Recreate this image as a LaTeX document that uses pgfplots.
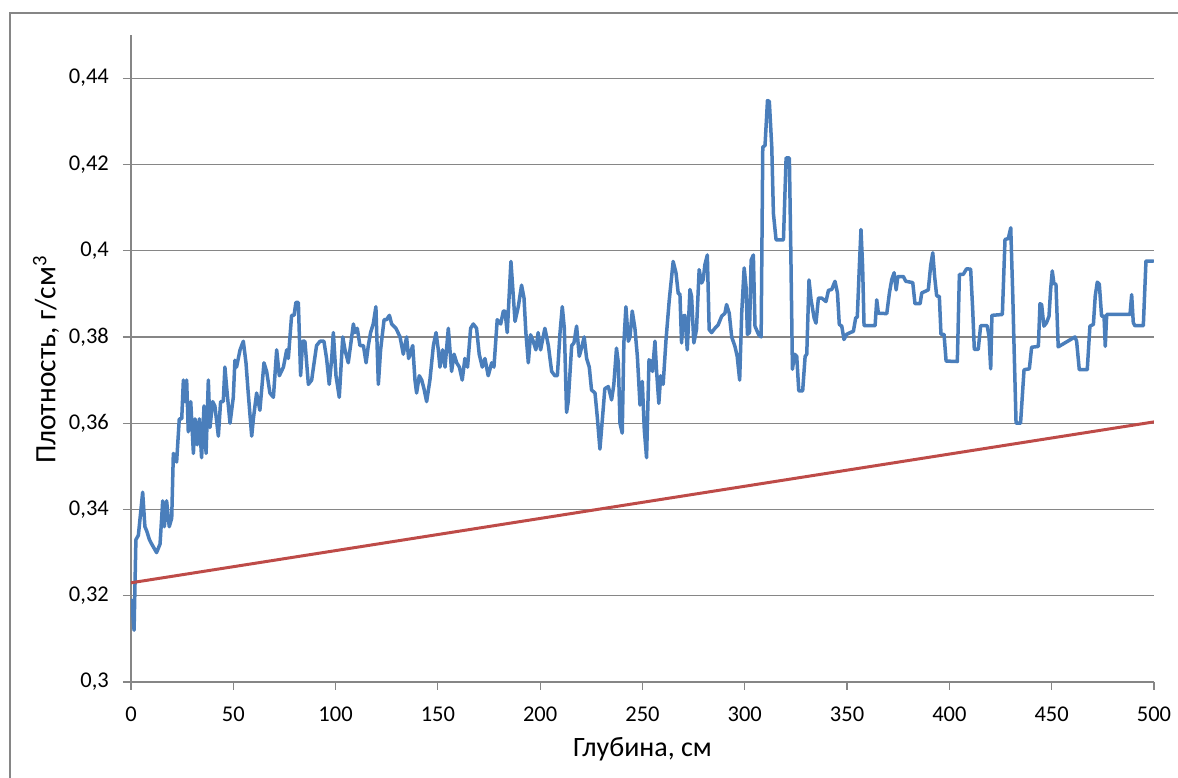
\documentclass[border=0pt]{standalone}
\usepackage{pgfplots}
\pgfplotsset{compat=1.18}
\usepackage{fontspec}
\setmainfont{Carlito}
\definecolor{ser}{RGB}{74,126,187}
\definecolor{tr}{RGB}{190,75,72}
\definecolor{gr}{RGB}{134,134,134}
\pgfplotstableread{
x y
0.3 0.319
1.5 0.312
2.4 0.333
3.6 0.334
5.7 0.344
6.8 0.336
7.7 0.335
9 0.333
10.1 0.332
12.5 0.330
14.2 0.332
15.5 0.342
16.3 0.336
17.4 0.342
18.7 0.336
19.9 0.338
20.7 0.353
22.3 0.351
23.6 0.361
24.8 0.361
25.6 0.370
26.4 0.365
27.2 0.370
28 0.358
29.2 0.365
30.5 0.353
31.3 0.361
32.4 0.355
33.4 0.361
34.5 0.352
35.7 0.364
36.7 0.353
37.8 0.370
38.6 0.359
39.9 0.365
41 0.364
42.7 0.357
43.8 0.365
45.1 0.365
45.9 0.373
46.8 0.368
48.4 0.360
50 0.366
50.8 0.3746
51.6 0.373
53.3 0.377
54.9 0.379
56.2 0.374
57.3 0.367
59 0.357
59.8 0.361
61.4 0.367
63 0.363
65 0.374
66.3 0.372
67.9 0.367
69.6 0.366
71.2 0.377
72.5 0.371
74.5 0.373
76.1 0.377
76.9 0.375
78.5 0.385
79.7 0.385
80.6 0.388
81.8 0.388
82.9 0.371
83.9 0.379
85 0.379
86.7 0.369
88.3 0.370
90.7 0.378
92.4 0.379
94.3 0.379
95.6 0.375
96.9 0.369
98.1 0.375
98.9 0.381
100.2 0.371
101.8 0.366
103.5 0.380
104.6 0.377
106.2 0.374
108.7 0.383
109.5 0.381
110.6 0.382
111.9 0.378
113.6 0.378
114.9 0.374
116 0.378
117.1 0.381
118.4 0.383
119.7 0.387
120.9 0.369
122 0.377
123.7 0.384
124.9 0.384
126.3 0.385
127.4 0.383
129.5 0.382
131.5 0.380
133.1 0.376
134.7 0.380
135.7 0.375
137.7 0.378
138.8 0.370
139.6 0.367
140.9 0.371
142.1 0.370
143.2 0.368
144.5 0.365
146.1 0.370
147.8 0.378
149.1 0.381
150.2 0.377
151.0 0.373
152.3 0.377
153.5 0.373
155.1 0.382
155.9 0.377
156.7 0.372
157.9 0.376
159.2 0.374
160.5 0.373
161.9 0.370
163.2 0.375
164.5 0.373
166 0.382
167.3 0.383
168.9 0.382
170.2 0.376
171.7 0.373
173 0.375
174.6 0.371
176.3 0.374
177.4 0.373
179 0.384
180.7 0.383
182 0.386
182.8 0.386
183.9 0.381
185.7 0.3975
186.5 0.392
187.7 0.3836
189.3 0.387
190.9 0.392
192.1 0.389
193 0.381
194.2 0.374
195.3 0.3805
196.6 0.379
197.9 0.377
199 0.381
200.2 0.377
202.3 0.382
204 0.378
205.6 0.372
207.2 0.371
208.4 0.371
209.7 0.381
210.8 0.387
211.8 0.382
212.9 0.3625
213.7 0.365
215.4 0.378
216.5 0.3786
217.8 0.3825
219.1 0.3755
220.2 0.3774
221.5 0.380
222.7 0.375
224 0.373
225.1 0.3677
226.8 0.367
227.9 0.3615
229.2 0.354
230.5 0.3615
231.6 0.368
233.3 0.3685
234.9 0.3654
236 0.369
237.3 0.3774
238.2 0.374
239 0.360
240.1 0.3577
240.9 0.3786
241.9 0.387
243.1 0.379
243.9 0.380
245 0.386
246.3 0.382
247.5 0.3755
248.8 0.3642
249.9 0.3697
250.9 0.3584
252 0.352
253.2 0.3747
254.1 0.3743
254.9 0.372
256.1 0.379
256.9 0.372
258 0.3646
258.9 0.371
260.1 0.369
261.5 0.3793
263.1 0.3886
265.0 0.3975
266.4 0.3948
267.5 0.390
268.3 0.390
269.1 0.3786
269.9 0.3848
270.7 0.385
271.9 0.377
273.2 0.391
274 0.3894
275.1 0.3786
276.4 0.3817
277.7 0.3956
278.9 0.3925
279.7 0.3933
280.5 0.3967
281.7 0.399
282.6 0.3817
283.8 0.381
285.4 0.382
287 0.3828
288.7 0.3848
290.3 0.3855
291.1 0.3875
292.4 0.3855
293.6 0.380
295.2 0.3778
296.3 0.3755
297.5 0.370
298.5 0.3855
299.7 0.396
300.6 0.3917
301.3 0.3806
302.3 0.381
303.1 0.3978
304.2 0.399
305 0.3825
306.7 0.3806
308 0.380
308.8 0.424
309.9 0.4244
311.1 0.4348
312.0 0.4346
313.2 0.424
314 0.4086
315.3 0.4025
318.9 0.4025
320.2 0.4215
321.8 0.4215
322.5 0.400
323.3 0.3725
324.3 0.376
325.4 0.3755
326.4 0.3675
328.3 0.3675
329.5 0.3755
330.3 0.376
331.4 0.3932
332.4 0.3886
333.9 0.3844
334.8 0.3832
336 0.389
337.6 0.389
339.7 0.3882
340.9 0.3908
342.5 0.391
344.1 0.3929
345.3 0.3902
346.2 0.3829
347.4 0.3825
348.5 0.3794
349.8 0.3806
351.5 0.381
353.1 0.3813
354.2 0.3844
355 0.3846
356 0.3963
356.8 0.4049
357.6 0.3963
358.3 0.3826
363.7 0.3826
364.5 0.3886
365.3 0.3855
369.4 0.3854
370.7 0.3902
371.8 0.3932
373 0.3949
374 0.3909
374.8 0.394
377.5 0.394
378.7 0.3929
382.1 0.3926
383.2 0.3877
385.7 0.3877
386.5 0.3902
389.7 0.3909
390.9 0.3967
391.9 0.3995
392.8 0.394
393.8 0.3895
395.1 0.3894
395.9 0.3806
397.4 0.3806
398.4 0.3744
403.9 0.3743
404.9 0.3945
406.8 0.3945
408.4 0.3958
410.4 0.3957
411.4 0.3864
412.2 0.3771
414.1 0.3771
415.3 0.3826
418.5 0.3826
419.4 0.380
420.2 0.3726
420.8 0.385
425.9 0.3852
427.2 0.4026
428.8 0.4028
430 0.4053
431 0.3895
431.7 0.3763
432.6 0.360
434.8 0.360
436.5 0.3724
439.1 0.3726
440.2 0.3776
443.5 0.3778
444.3 0.3877
445.1 0.3875
446.2 0.3825
447.5 0.3833
448.7 0.3848
449.5 0.391
450.3 0.3953
451.1 0.3924
452.1 0.3922
453.2 0.3777
461.4 0.380
462.2 0.379
463.5 0.3724
467.4 0.3724
468.7 0.3825
470.4 0.3829
471.3 0.3895
472.3 0.3927
473.3 0.3922
474.4 0.3848
475.6 0.3848
476.2 0.3778
476.9 0.3852
488.3 0.3852
489.1 0.3898
489.9 0.3833
490.7 0.3826
494.8 0.3826
496.1 0.3976
499.7 0.3976
}\density
\begin{document}
\begin{tikzpicture}
\useasboundingbox (0pt,0pt) rectangle (1178pt,778pt);
\draw[gr, line width=1.3pt] (10pt,0pt) -- (10pt,765pt) -- (1178pt,765pt);
\begin{axis}[
  at={(131pt,96pt)}, anchor=south west,
  width=1023pt, height=647pt, scale only axis,
  xmin=0, xmax=500, ymin=0.3, ymax=0.45,
  xtick={0,50,100,150,200,250,300,350,400,450,500},
  xticklabels={0,50,100,150,200,250,300,350,400,450,500},
  ytick={0.3,0.32,0.34,0.36,0.38,0.4,0.42,0.44},
  yticklabels={{0,3},{0,32},{0,34},{0,36},{0,38},{0,4},{0,42},{0,44}},
  axis x line*=bottom, axis y line*=left,
  axis line style={gr, line width=1.2pt, -},
  ymajorgrids, grid style={gr, line width=1.2pt},
  tick style={gr, line width=1.2pt}, major tick length=8pt, tick align=outside,
  x tick label style={font=\fontsize{22.5}{27}\selectfont, inner sep=0pt, anchor=north, yshift=-17pt},
  y tick label style={font=\fontsize{22.5}{27}\selectfont, inner sep=0pt, anchor=east, xshift=-14pt},
  xlabel={Глубина, см},
  ylabel={Плотность, г/см\textsuperscript{3}},
  xlabel style={font=\fontsize{28}{33}\selectfont, at={(axis description cs:0.5,-0.1159)}, anchor=base},
  ylabel style={font=\fontsize{29.5}{35}\selectfont, at={(axis description cs:-0.0831,0.498)}, anchor=center},
  /pgf/number format/assume math mode=true,
]
\addplot[ser, line width=3.5pt, line join=round, line cap=round] table[x=x,y=y] {\density};
\addplot[tr, line width=3pt] coordinates {(0,0.323) (500,0.3603)};
\end{axis}
\end{tikzpicture}
\end{document}
